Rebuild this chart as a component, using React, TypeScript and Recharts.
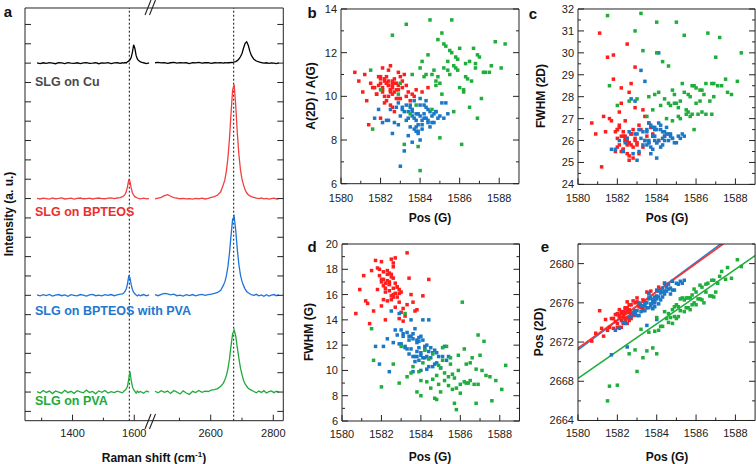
import React from 'react';
import { ComposedChart, Line, Scatter, XAxis, YAxis, ReferenceLine } from 'recharts';

const FONT = '"Liberation Sans", Arial, Helvetica, sans-serif';
const AX = '#222';

// ---------- panel a: Raman spectra (broken x axis) ----------
const leftShift = [1285, 1295, 1305, 1315, 1325, 1335, 1345, 1355, 1365, 1375, 1385, 1395, 1405, 1415, 1425, 1435, 1445, 1455, 1465, 1475, 1485, 1495, 1505, 1515, 1525, 1535, 1545, 1555,
  1562, 1566, 1570, 1574, 1578, 1582, 1586, 1590, 1594, 1598, 1602, 1606, 1610, 1614, 1620, 1630, 1640, 1648];
const rightShift = [2422, 2432, 2442, 2452, 2462, 2472, 2482, 2492, 2502, 2512, 2522, 2532, 2542, 2552, 2562, 2572, 2582, 2592, 2602, 2612, 2622, 2632,
  2640, 2645, 2650, 2655, 2660, 2665, 2670, 2675, 2680, 2685, 2690, 2695, 2700, 2705, 2710, 2715, 2720, 2725, 2730,
  2738, 2746, 2754, 2762, 2770, 2778, 2786, 2794, 2802, 2810, 2818];

const cuLeft = [18.01, 17.98, 18.02, 17.99, 18.03, 18.0, 17.97, 18.02, 18.01, 17.98, 18.03, 18.0, 17.99, 18.02, 17.98, 18.01, 18.03, 17.99, 18.0, 18.02,
  17.97, 18.01, 18.0, 18.03, 17.98, 18.01, 18.02, 17.99,
  18.02, 18.0, 18.03, 18.01, 18.07, 18.1, 18.17, 18.29, 18.56, 18.95, 18.76, 18.4, 18.22, 18.13, 18.07, 18.02, 17.98, 18.01];
const cuRight = [18.02, 18.04, 18.01, 18.03, 17.99, 18.02, 18.04, 18.0, 18.03, 18.01, 18.02, 17.98, 18.03, 18.01, 18.04, 18.0, 18.02, 18.03, 17.99, 18.02,
  18.01, 18.03,
  18.0, 18.02, 18.01, 18.03, 18.02, 18.04, 18.03, 18.06, 18.08, 18.13, 18.21, 18.33, 18.5, 18.78, 19.02, 19.1, 18.92, 18.62, 18.4,
  18.2, 18.11, 18.06, 18.03, 18.0, 18.02, 17.99, 18.01, 18.0, 17.98, 18.01];
const bpLeft = [11.01, 10.98, 11.02, 11.0, 10.97, 11.03, 10.99, 11.01, 11.04, 10.98, 11.0, 11.02, 10.97, 11.01, 11.03, 10.99, 11.0, 11.02, 10.98, 11.01,
  11.03, 11.0, 10.99, 11.02, 11.04, 11.0, 11.03, 11.05,
  11.1, 11.14, 11.22, 11.35, 11.6, 11.95, 11.9, 11.55, 11.3, 11.18, 11.1, 11.06, 11.03, 11.01, 10.99, 11.02, 10.98, 11.0];
const bpRight = [10.98, 11.02, 11.06, 11.15, 11.2, 11.12, 11.05, 11.02, 10.99, 11.01, 10.98, 11.0, 10.97, 11.01, 10.99, 11.02, 10.98, 11.01, 11.06, 11.1,
  11.18, 11.35,
  11.7, 11.95, 12.4, 13.1, 14.1, 15.4, 16.6, 16.9, 15.8, 14.4, 13.3, 12.5, 12.0, 11.7, 11.45, 11.3, 11.2, 11.14, 11.1,
  11.06, 11.02, 11.0, 11.03, 10.99, 11.01, 10.97, 11.0, 11.02, 10.98, 11.0];
const bpPvaLeft = [6.02, 5.97, 6.03, 5.99, 6.05, 5.96, 6.01, 6.04, 5.98, 6.02, 5.95, 6.03, 6.0, 5.97, 6.04, 6.01, 5.96, 6.02, 6.05, 5.98,
  6.01, 5.97, 6.03, 6.0, 6.04, 5.98, 6.02, 6.06,
  6.08, 6.12, 6.2, 6.33, 6.58, 6.98, 6.92, 6.55, 6.3, 6.15, 6.08, 6.02, 5.97, 6.03, 5.98, 6.04, 5.97, 6.02];
const bpPvaRight = [6.03, 5.98, 6.05, 6.1, 6.08, 6.02, 6.06, 5.98, 6.01, 5.96, 6.03, 5.99, 6.04, 5.97, 6.02, 6.05, 6.0, 6.04, 6.06, 6.1,
  6.15, 6.26,
  6.5, 6.68, 7.0, 7.48, 8.18, 9.1, 9.92, 10.08, 9.35, 8.38, 7.6, 7.05, 6.72, 6.5, 6.32, 6.2, 6.13, 6.08, 6.04,
  6.0, 6.05, 5.97, 6.02, 5.95, 6.03, 5.96, 6.01, 6.04, 5.98, 6.02];
const pvaLeft = [1.02, 0.95, 1.08, 0.98, 1.05, 0.92, 1.06, 1.0, 0.94, 1.09, 0.97, 1.04, 0.93, 1.07, 1.01, 0.96, 1.1, 0.98, 1.03, 0.91,
  1.06, 0.99, 1.08, 0.95, 1.02, 0.97, 1.05, 1.0,
  0.96, 1.04, 1.09, 1.16, 1.3, 1.65, 2.07, 1.62, 1.28, 1.12, 1.04, 0.95, 1.05, 0.98, 1.03, 0.94, 1.06, 1.0];
const pvaRight = [1.04, 0.96, 1.07, 0.99, 1.05, 0.93, 1.08, 1.0, 0.9, 1.06, 0.95, 0.88, 1.04, 0.97, 1.08, 0.99, 1.05, 1.03, 1.1, 1.12,
  1.18, 1.3,
  1.45, 1.62, 1.85, 2.2, 2.7, 3.4, 4.0, 4.2, 3.9, 3.3, 2.75, 2.25, 1.9, 1.6, 1.42, 1.3, 1.2, 1.14, 1.1,
  1.03, 0.96, 1.05, 0.98, 1.07, 0.95, 1.02, 1.06, 0.97, 1.04, 0.99];

const peakG = 1584;
const peak2D = 2673.5;
const leftTicks = [1300, 1400, 1500, 1600];
const rightTicks = [2500, 2600, 2700, 2800];
const intensityTicks = [0, 1, 2, 3, 4, 5, 6, 7, 8, 9, 10, 11, 12, 13, 14, 15, 16, 17, 18, 19, 20];

// ---------- panels b-e: mapping data, one entry per spot ----------
const redPosG = [1582.4, 1582.1, 1582.7, 1582.9, 1582.3, 1581.9, 1582.6, 1583.1, 1582.2, 1582.5,
  1582.8, 1582.0, 1582.4, 1583.3, 1581.7, 1582.6, 1582.3, 1583.0, 1582.1, 1582.9,
  1582.5, 1581.8, 1582.7, 1583.4, 1582.2, 1582.0, 1582.6, 1583.2, 1582.4, 1581.5,
  1582.8, 1582.3, 1583.6, 1582.1, 1582.5, 1581.9, 1582.7, 1583.0, 1582.4, 1581.2,
  1582.6, 1583.8, 1582.2, 1582.9, 1580.7, 1582.3, 1581.6, 1583.5, 1582.5, 1582.0,
  1581.4, 1582.8, 1582.1, 1584.1, 1582.6, 1581.1, 1583.1, 1582.4, 1582.7, 1581.8,
  1580.9, 1583.7, 1582.2, 1582.5, 1584.4, 1581.3, 1582.9, 1583.3, 1582.0, 1582.6];
const redRatio = [10.5, 10.2, 10.8, 10.3, 10.6, 10.9, 10.1, 10.4, 10.7, 10.3,
  9.9, 10.6, 11.2, 10.0, 10.4, 10.7, 9.8, 10.9, 10.3, 10.5,
  11.4, 10.1, 10.6, 10.2, 9.7, 10.8, 10.4, 11.0, 10.0, 10.6,
  10.3, 10.9, 10.1, 11.3, 9.6, 10.5, 10.2, 9.9, 10.7, 11.0,
  10.5, 10.3, 10.0, 11.1, 11.1, 10.6, 10.4, 9.8, 10.2, 10.9,
  8.7, 10.6, 10.4, 10.2, 9.5, 10.2, 10.7, 10.5, 9.3, 10.1,
  10.7, 10.0, 10.8, 10.3, 10.4, 9.8, 9.9, 10.5, 9.0, 10.6];
const redFwhm2D = [26.0, 25.8, 26.3, 26.1, 25.6, 26.4, 25.9, 26.7, 26.2, 25.4,
  26.5, 25.7, 26.0, 27.4, 26.9, 25.3, 26.2, 25.9, 26.6, 26.0,
  25.8, 28.8, 26.3, 27.1, 25.5, 26.1, 25.9, 26.5, 26.2, 29.8,
  25.7, 26.4, 26.8, 27.3, 26.0, 25.5, 28.6, 25.8, 26.1, 24.8,
  25.9, 26.3, 28.4, 29.35, 26.8, 25.6, 27.0, 26.2, 30.4, 26.5,
  26.4, 25.2, 26.7, 26.0, 25.1, 30.9, 25.4, 26.9, 25.8, 29.9,
  26.3, 26.6, 27.7, 26.1, 26.2, 27.1, 27.5, 25.7, 26.5, 28.2];
const redFwhmG = [16.8, 17.2, 16.1, 15.4, 17.6, 18.0, 16.5, 14.9, 16.9, 17.4,
  15.8, 18.6, 16.3, 15.2, 18.7, 16.0, 17.1, 14.6, 17.8, 16.4,
  15.6, 18.1, 16.9, 17.3, 16.2, 15.1, 18.5, 14.3, 17.0, 17.9,
  16.6, 15.5, 15.4, 16.7, 18.8, 17.5, 15.0, 16.2, 17.7, 15.5,
  17.3, 14.8, 16.5, 14.1, 14.5, 17.9, 14.7, 16.0, 15.9, 17.0,
  13.7, 16.6, 15.6, 15.9, 18.2, 17.5, 13.9, 16.8, 18.9, 16.4,
  16.4, 14.7, 14.0, 17.6, 17.2, 15.3, 16.1, 19.3, 17.2, 15.8];
const redPos2D = [2674.4, 2674.7, 2674.7, 2676.0, 2674.5, 2674.8, 2674.2, 2675.9, 2674.9, 2674.5,
  2676.2, 2673.9, 2675.0, 2675.4, 2674.4, 2675.0, 2673.9, 2676.1, 2675.3, 2675.2,
  2675.3, 2673.4, 2675.8, 2676.1, 2673.5, 2674.9, 2675.2, 2675.5, 2675.5, 2673.2,
  2674.7, 2674.9, 2677.0, 2673.5, 2675.5, 2674.1, 2674.9, 2676.5, 2674.2, 2673.4,
  2675.3, 2676.3, 2675.1, 2674.8, 2672.1, 2675.1, 2673.5, 2677.1, 2673.9, 2674.8,
  2674.3, 2675.0, 2674.5, 2677.6, 2674.4, 2675.2, 2675.6, 2675.4, 2674.4, 2674.4,
  2672.9, 2677.2, 2674.2, 2676.1, 2678.0, 2672.6, 2675.1, 2676.3, 2673.5, 2675.8];

const bluePosG = [1583.8, 1584.1, 1583.5, 1584.3, 1583.9, 1583.2, 1584.6, 1583.7, 1584.0, 1583.4,
  1584.4, 1583.6, 1584.2, 1582.9, 1583.8, 1584.8, 1583.3, 1584.0, 1583.6, 1584.5,
  1583.1, 1584.2, 1583.9, 1582.7, 1584.7, 1583.5, 1584.1, 1583.0, 1584.4, 1583.7,
  1582.5, 1584.9, 1583.8, 1584.3, 1583.4, 1585.1, 1583.6, 1582.3, 1584.0, 1583.9,
  1584.6, 1583.2, 1585.3, 1583.7, 1582.1, 1584.2, 1583.5, 1584.8, 1581.7, 1584.1,
  1583.3, 1585.0, 1583.9, 1582.6, 1584.5, 1583.0, 1584.3, 1582.9, 1585.4, 1583.6,
  1582.4, 1584.7, 1583.1, 1584.0, 1581.9, 1583.8, 1585.2, 1582.8, 1584.4, 1583.4];
const blueRatio = [9.2, 8.9, 9.5, 9.0, 8.7, 9.3, 9.1, 8.5, 9.6, 9.0,
  8.8, 9.4, 9.2, 9.7, 8.4, 9.3, 8.9, 9.9, 9.1, 8.6,
  9.5, 9.0, 8.3, 8.8, 9.2, 9.6, 8.7, 9.1, 9.4, 9.8,
  9.4, 9.0, 8.9, 9.5, 8.2, 9.7, 9.3, 8.9, 8.0, 9.2,
  8.8, 7.5, 9.7, 9.0, 8.8, 9.6, 8.6, 9.3, 9.0, 8.5,
  9.6, 9.1, 8.4, 8.3, 9.3, 6.8, 9.8, 8.7, 9.2, 7.9,
  8.9, 8.8, 9.4, 9.1, 9.4, 8.6, 9.0, 9.5, 8.9, 9.3];
const blueFwhm2D = [26.2, 26.0, 26.4, 25.8, 26.6, 26.1, 26.3, 25.7, 26.5, 26.0,
  26.2, 25.9, 26.7, 26.3, 25.6, 26.1, 26.4, 25.9, 26.8, 26.3,
  25.5, 26.5, 26.0, 27.9, 26.2, 25.8, 30.0, 26.3, 26.0, 25.4,
  26.1, 25.9, 26.6, 26.4, 28.7, 26.2, 25.9, 25.5, 25.2, 26.5,
  26.0, 29.2, 26.3, 26.7, 26.0, 25.7, 26.5, 26.1, 25.6, 26.8,
  25.8, 25.9, 26.2, 26.4, 26.6, 25.1, 26.1, 27.8, 26.2, 26.0,
  25.9, 26.3, 26.5, 25.9, 25.6, 26.2, 26.1, 25.4, 26.4, 26.0];
const blueFwhmG = [12.2, 11.0, 12.7, 11.1, 12.6, 11.8, 11.4, 11.1, 12.7, 12.4,
  10.3, 12.5, 11.7, 12.1, 11.1, 11.4, 13.0, 11.4, 11.1, 11.8,
  12.7, 11.0, 11.8, 13.2, 10.5, 14.0, 14.0, 12.1, 11.5, 10.7,
  14.7, 11.1, 12.4, 10.1, 11.3, 11.1, 12.9, 12.5, 11.2, 12.3,
  10.3, 11.9, 10.8, 13.3, 11.9, 11.9, 11.7, 10.6, 11.9, 12.4,
  11.7, 10.2, 10.8, 12.2, 11.0, 13.2, 12.0, 14.5, 11.1, 9.9,
  9.9, 11.6, 12.9, 10.0, 10.5, 11.5, 11.9, 12.8, 14.0, 12.7];
const bluePos2D = [2676.2, 2677.2, 2675.5, 2677.5, 2676.2, 2675.7, 2677.9, 2675.7, 2677.3, 2675.7,
  2676.9, 2676.5, 2676.3, 2675.1, 2675.4, 2678.2, 2675.2, 2676.7, 2676.9, 2677.2,
  2674.7, 2677.2, 2676.0, 2674.6, 2677.5, 2676.0, 2675.9, 2675.2, 2678.0, 2675.9,
  2671.5, 2677.3, 2676.3, 2676.6, 2675.2, 2677.9, 2676.4, 2674.0, 2674.3, 2676.6,
  2677.4, 2675.1, 2678.0, 2676.5, 2673.4, 2677.0, 2673.7, 2677.3, 2670.7, 2676.6,
  2675.7, 2678.0, 2675.6, 2674.6, 2677.6, 2674.7, 2677.1, 2674.9, 2678.3, 2675.5,
  2673.9, 2676.9, 2676.0, 2676.4, 2673.2, 2676.0, 2678.2, 2675.0, 2677.2, 2676.0];

const greenPosG = [1585.2, 1585.8, 1584.9, 1586.3, 1585.5, 1584.6, 1586.8, 1585.0, 1586.1, 1584.4,
  1585.6, 1587.2, 1584.8, 1586.5, 1585.3, 1583.9, 1586.0, 1585.7, 1587.5, 1584.2,
  1585.9, 1586.7, 1585.1, 1584.0, 1587.0, 1585.4, 1586.2, 1583.6, 1588.1, 1585.6,
  1584.7, 1586.9, 1585.2, 1583.3, 1586.4, 1587.8, 1584.5, 1585.9, 1582.9, 1586.6,
  1585.0, 1588.3, 1584.3, 1586.0, 1583.0, 1585.7, 1587.3, 1584.1, 1586.3, 1582.6,
  1585.4, 1581.5, 1586.9, 1584.8, 1583.8, 1587.6, 1585.1, 1582.0, 1586.5, 1584.6,
  1581.6, 1585.8, 1583.5, 1587.1, 1584.9, 1586.2, 1583.2, 1585.5, 1584.0, 1586.8];
const greenRatio = [11.3, 11.8, 10.9, 11.5, 12.1, 11.0, 11.3, 10.6, 7.8, 11.9,
  13.5, 11.1, 10.7, 11.6, 12.3, 7.7, 10.4, 11.4, 11.1, 10.9,
  11.7, 12.2, 10.1, 11.3, 11.8, 11.6, 10.3, 11.0, 11.3, 12.0,
  11.2, 11.9, 12.4, 13.3, 10.8, 12.5, 13.5, 11.2, 10.1, 10.7,
  8.1, 12.4, 11.0, 12.2, 10.6, 9.3, 11.1, 11.6, 10.9, 12.8,
  11.2, 11.2, 9.0, 10.5, 9.6, 11.4, 12.9, 10.3, 9.5, 9.4,
  8.5, 11.3, 9.2, 9.9, 12.6, 10.2, 7.8, 11.0, 6.6, 11.5];
const greenFwhm2D = [27.8, 27.2, 27.7, 28.3, 27.2, 29.4, 28.6, 31.4, 27.2, 27.9,
  28.1, 30.7, 26.9, 28.6, 28.6, 28.1, 27.7, 28.0, 28.8, 27.6,
  28.5, 27.8, 27.1, 31.4, 29.8, 30.8, 28.3, 28.0, 28.7, 27.3,
  27.6, 28.6, 27.0, 30.1, 28.1, 28.1, 27.0, 26.5, 31.0, 30.9,
  27.7, 30.0, 29.6, 28.4, 27.9, 27.1, 28.5, 28.2, 27.3, 27.8,
  28.2, 31.7, 28.0, 28.3, 27.4, 28.2, 27.5, 27.6, 27.2, 27.7,
  28.5, 28.5, 27.1, 28.5, 28.1, 27.8, 31.8, 27.4, 30.0, 27.2];
const greenFwhmG = [9.8, 8.6, 10.4, 9.0, 11.0, 9.3, 10.1, 8.3, 15.4, 10.9,
  8.5, 12.3, 9.6, 10.6, 11.9, 9.9, 8.2, 9.4, 9.5, 11.6,
  10.0, 8.9, 11.8, 8.0, 11.2, 8.8, 11.7, 10.3, 8.5, 9.7,
  7.8, 12.8, 9.2, 9.5, 9.0, 9.2, 8.6, 11.2, 9.0, 11.0,
  10.2, 10.4, 9.1, 8.9, 11.9, 7.4, 9.6, 10.6, 10.5, 10.5,
  9.5, 13.3, 8.9, 7.7, 8.3, 7.6, 10.8, 8.7, 9.2, 11.3,
  10.8, 6.9, 9.8, 10.0, 8.9, 9.1, 14.5, 10.5, 9.2, 7.4];
const greenPos2D = [2675.2, 2676.8, 2674.6, 2676.3, 2676.5, 2674.9, 2678.3, 2674.4, 2676.4, 2675.1,
  2675.5, 2678.7, 2675.3, 2677.1, 2676.5, 2673.1, 2677.1, 2675.3, 2678.4, 2673.6,
  2677.4, 2676.7, 2675.6, 2674.5, 2677.1, 2675.1, 2677.8, 2673.0, 2680.4, 2676.5,
  2674.5, 2678.3, 2676.4, 2670.4, 2676.0, 2678.5, 2674.4, 2676.0, 2671.2, 2678.0,
  2675.8, 2679.7, 2673.6, 2675.8, 2669.0, 2676.5, 2679.2, 2673.2, 2677.6, 2670.8,
  2676.3, 2666.0, 2676.6, 2673.9, 2671.4, 2679.6, 2674.6, 2667.6, 2677.9, 2674.0,
  2667.5, 2675.8, 2671.1, 2678.0, 2675.6, 2676.4, 2673.3, 2675.5, 2670.8, 2676.7];

// linear fits of Pos(2D) vs Pos(G), end points
const fitPosG = [1580, 1589];
const redFit = [2671.37, 2684.33];
const blueFit = [2671.2, 2684.61];
const greenFit = [2668.3, 2680.81];

const posGTicks = [1580, 1581, 1582, 1583, 1584, 1585, 1586, 1587, 1588];
const ratioTicks = [6, 7, 8, 9, 10, 11, 12, 13, 14];
const fwhm2DTicks = [24, 24.5, 25, 25.5, 26, 26.5, 27, 27.5, 28, 28.5, 29, 29.5, 30, 30.5, 31, 31.5, 32];
const fwhmGTicks = [6, 7, 8, 9, 10, 11, 12, 13, 14, 15, 16, 17, 18, 19, 20];
const pos2DTicks = [2664, 2666, 2668, 2670, 2672, 2674, 2676, 2678, 2680, 2682];

const RED = '#ff1e1e';
const BLUE = '#1b78c6';
const GREEN = '#1fae3c';

type Side = 'bottom' | 'top' | 'left' | 'right';
type Box = { x0: number; y0: number; x1: number; y1: number };

// axes are 1px thick (recharts skips 0-size axes), so margins are 1px less on sides that carry an axis
const PAD = 32;
const place = (b: Box, sides: { l: boolean; r: boolean }) => ({
  style: { position: 'absolute' as const, left: b.x0 - PAD, top: b.y0 - PAD },
  width: b.x1 - b.x0 + 2 * PAD,
  height: b.y1 - b.y0 + 2 * PAD,
  margin: { top: PAD - 1, bottom: PAD - 1, left: sides.l ? PAD - 1 : PAD, right: sides.r ? PAD - 1 : PAD },
});

// inward ticks, longer for major ones; labels only on bottom/left
const makeTick = (side: Side, isMajor: (v: number) => boolean, showLabel: boolean, gap = 13) => (p: any) => {
  const { x, y, payload } = p;
  const v = Number(payload.value);
  const major = isMajor(v);
  const l = major ? 6 : 3;
  const lab = showLabel && major ? String(v) : '';
  const t = { fontSize: 11, fontFamily: FONT, fill: '#222' };
  if (side === 'bottom') {
    return (
      <g>
        <line x1={x} y1={y} x2={x} y2={y - l} stroke={AX} />
        {lab && <text x={x} y={y + gap} textAnchor="middle" dominantBaseline="central" {...t}>{lab}</text>}
      </g>
    );
  }
  if (side === 'top') return <line x1={x} y1={y} x2={x} y2={y + l} stroke={AX} />;
  if (side === 'left') {
    return (
      <g>
        <line x1={x} y1={y} x2={x + l} y2={y} stroke={AX} />
        {lab && <text x={x - 4} y={y} textAnchor="end" dominantBaseline="central" {...t}>{lab}</text>}
      </g>
    );
  }
  return <line x1={x} y1={y} x2={x - l} y2={y} stroke={AX} />;
};

const axisBase = {
  type: 'number' as const,
  allowDataOverflow: true,
  interval: 0 as const,
  tickSize: 0,
  tickMargin: 0,
  tickLine: false,
  axisLine: { stroke: AX },
};

const square = (color: string) => (p: any) => (
  <rect x={p.cx - 1.75} y={p.cy - 1.75} width={3.5} height={3.5} fill={color} />
);

const SPECTRA = [
  { key: 'cu', color: '#000000' },
  { key: 'bp', color: '#f24040' },
  { key: 'bpPva', color: '#1f74d8' },
  { key: 'pva', color: '#22aa3a' },
];

const leftRows = leftShift.map((s, i) => ({ s, cu: cuLeft[i], bp: bpLeft[i], bpPva: bpPvaLeft[i], pva: pvaLeft[i] }));
const rightRows = rightShift.map((s, i) => ({ s, cu: cuRight[i], bp: bpRight[i], bpPva: bpPvaRight[i], pva: pvaRight[i] }));

function SpectrumPart({ box, rows, domain, ticks, peak, side }: any) {
  const p = place(box, { l: side === 'left', r: side === 'right' });
  const major = (v: number) => v % 200 === 0;
  return (
    <div style={p.style}>
      <ComposedChart width={p.width} height={p.height} margin={p.margin} data={rows}>
        <XAxis {...axisBase} dataKey="s" domain={domain} ticks={ticks} height={1} tick={makeTick('bottom', major, true, 12)} />
        <XAxis {...axisBase} xAxisId="t" orientation="top" domain={domain} ticks={ticks} height={1} tick={makeTick('top', major, false)} />
        <YAxis {...axisBase} yAxisId="y" orientation={side} domain={[-0.48, 20.85]} ticks={intensityTicks} width={1}
          tick={makeTick(side, () => true, false)} />
        <ReferenceLine x={peak} yAxisId="y" stroke="#111" strokeDasharray="2 2" strokeWidth={1} />
        {SPECTRA.map((s) => (
          <Line key={s.key} yAxisId="y" dataKey={s.key} stroke={s.color} strokeWidth={1.3} dot={false} type="linear" isAnimationActive={false} />
        ))}
      </ComposedChart>
    </div>
  );
}

const rows = (xs: number[], ys: number[]) => xs.map((x, i) => ({ x, y: ys[i] }));

function ScatterPanel({ box, yDomain, yTicks, yMajor, gap, groups, fits }: any) {
  const p = place(box, { l: true, r: true });
  const xMajor = (v: number) => v % 2 === 0;
  return (
    <div style={p.style}>
      <ComposedChart width={p.width} height={p.height} margin={p.margin}>
        <XAxis {...axisBase} xAxisId="b" dataKey="x" domain={[1580, 1589]} ticks={posGTicks} height={1} tick={makeTick('bottom', xMajor, true, gap)} />
        <XAxis {...axisBase} xAxisId="t" orientation="top" domain={[1580, 1589]} ticks={posGTicks} height={1} tick={makeTick('top', xMajor, false)} />
        <YAxis {...axisBase} yAxisId="l" dataKey="y" domain={yDomain} ticks={yTicks} width={1} tick={makeTick('left', yMajor, true)} />
        <YAxis {...axisBase} yAxisId="r" orientation="right" domain={yDomain} ticks={yTicks} width={1} tick={makeTick('right', yMajor, false)} />
        {groups.map((g: any) => (
          <Scatter key={g.name} xAxisId="b" yAxisId="l" data={g.data} fill={g.color} shape={square(g.color)} isAnimationActive={false} />
        ))}
        {(fits || []).map((f: any) => (
          <Line key={f.name} xAxisId="b" yAxisId="l" data={f.data} dataKey="y" stroke={f.color} strokeWidth={1.6} dot={false} type="linear" isAnimationActive={false} />
        ))}
      </ComposedChart>
    </div>
  );
}

const txt = (left: number, top: number, s: string, extra: React.CSSProperties = {}) => (
  <div style={{ position: 'absolute', left, top, transform: 'translate(-50%, -50%)', whiteSpace: 'nowrap', fontWeight: 700, fontSize: 12, color: '#111', ...extra }}>{s}</div>
);
const vtxt = (left: number, top: number, s: string) => (
  <div style={{ position: 'absolute', left, top, transform: 'translate(-50%, -50%) rotate(-90deg)', whiteSpace: 'nowrap', fontWeight: 700, fontSize: 12, color: '#111' }}>{s}</div>
);
const specLabel = (top: number, s: string, color: string) => (
  <div style={{ position: 'absolute', left: 35, top, transform: 'translateY(-50%)', whiteSpace: 'nowrap', fontWeight: 700, fontSize: 12.5, color }}>{s}</div>
);

export default function App() {
  const B: Box = { x0: 341, y0: 8.6, x1: 519, y1: 183.3 };
  const C: Box = { x0: 578.3, y0: 8.6, x1: 755.4, y1: 184 };
  const D: Box = { x0: 341.5, y0: 244, x1: 519, y1: 421 };
  const E: Box = { x0: 578.3, y0: 244, x1: 755.4, y1: 420.5 };
  const even = (v: number) => v % 2 === 0;
  return (
    <div style={{ position: 'absolute', left: 0, top: 0, width: 756, height: 464, overflow: 'hidden', background: '#fff', fontFamily: FONT }}>
      <SpectrumPart box={{ x0: 25, y0: 8.3, x1: 150, y1: 421 }} rows={leftRows} domain={[1246, 1651]} ticks={leftTicks} peak={peakG} side="left" />
      <SpectrumPart box={{ x0: 150, y0: 8.3, x1: 283.3, y1: 421 }} rows={rightRows} domain={[2406, 2832]} ticks={rightTicks} peak={peak2D} side="right" />
      <svg width={756} height={464} style={{ position: 'absolute', left: 0, top: 0, pointerEvents: 'none' }}>
        <line x1={145} y1={429} x2={151} y2={414} stroke={AX} strokeWidth={1.1} />
        <line x1={149.5} y1={429} x2={155.5} y2={414} stroke={AX} strokeWidth={1.1} />
        <line x1={145} y1={15} x2={151} y2={0} stroke={AX} strokeWidth={1.1} />
        <line x1={149.5} y1={15} x2={155.5} y2={0} stroke={AX} strokeWidth={1.1} />
      </svg>

      <ScatterPanel box={B} yDomain={[6, 14]} yTicks={ratioTicks} yMajor={even} gap={14}
        groups={[
          { name: 'r', color: RED, data: rows(redPosG, redRatio) },
          { name: 'b', color: BLUE, data: rows(bluePosG, blueRatio) },
          { name: 'g', color: GREEN, data: rows(greenPosG, greenRatio) },
        ]} />
      <ScatterPanel box={C} yDomain={[24, 32]} yTicks={fwhm2DTicks} yMajor={(v: number) => Number.isInteger(v)} gap={14}
        groups={[
          { name: 'r', color: RED, data: rows(redPosG, redFwhm2D) },
          { name: 'b', color: BLUE, data: rows(bluePosG, blueFwhm2D) },
          { name: 'g', color: GREEN, data: rows(greenPosG, greenFwhm2D) },
        ]} />
      <ScatterPanel box={D} yDomain={[6, 20]} yTicks={fwhmGTicks} yMajor={even} gap={12.5}
        groups={[
          { name: 'r', color: RED, data: rows(redPosG, redFwhmG) },
          { name: 'b', color: BLUE, data: rows(bluePosG, blueFwhmG) },
          { name: 'g', color: GREEN, data: rows(greenPosG, greenFwhmG) },
        ]} />
      <ScatterPanel box={E} yDomain={[2664, 2682]} yTicks={pos2DTicks} yMajor={(v: number) => v % 4 === 0} gap={12.5}
        groups={[
          { name: 'r', color: RED, data: rows(redPosG, redPos2D) },
          { name: 'b', color: BLUE, data: rows(bluePosG, bluePos2D) },
          { name: 'g', color: GREEN, data: rows(greenPosG, greenPos2D) },
        ]}
        fits={[
          { name: 'fb', color: '#2383d4', data: rows(fitPosG, blueFit) },
          { name: 'fr', color: '#ff3030', data: rows(fitPosG, redFit) },
          { name: 'fg', color: '#1fae3c', data: rows(fitPosG, greenFit) },
        ]} />

      {txt(8, 11, 'a', { fontSize: 15 })}
      {txt(312, 12, 'b', { fontSize: 15 })}
      {txt(533, 13, 'c', { fontSize: 15 })}
      {txt(312, 246, 'd', { fontSize: 15 })}
      {txt(545, 246, 'e', { fontSize: 15 })}

      {vtxt(9, 214, 'Intensity (a. u.)')}
      <div style={{ position: 'absolute', left: 154, top: 457, transform: 'translate(-50%, -50%)', whiteSpace: 'nowrap', fontWeight: 700, fontSize: 12, color: '#111' }}>
        Raman shift (cm<sup style={{ fontSize: 8 }}>-1</sup>)
      </div>
      {specLabel(82, 'SLG on Cu', '#4a4a4a')}
      {specLabel(212, 'SLG on BPTEOS', '#ee2d2d')}
      {specLabel(311, 'SLG on BPTEOS with PVA', '#2277d0')}
      {specLabel(401, 'SLG on PVA', '#22aa3a')}

      {vtxt(310.5, 96, 'A(2D) / A(G)')}
      {vtxt(540.5, 96, 'FWHM (2D)')}
      {vtxt(308.5, 332, 'FWHM (G)')}
      {vtxt(538.5, 332, 'Pos (2D)')}
      {txt(430, 218, 'Pos (G)')}
      {txt(667, 218, 'Pos (G)')}
      {txt(430, 456.5, 'Pos (G)')}
      {txt(667, 456.5, 'Pos (G)')}
    </div>
  );
}
